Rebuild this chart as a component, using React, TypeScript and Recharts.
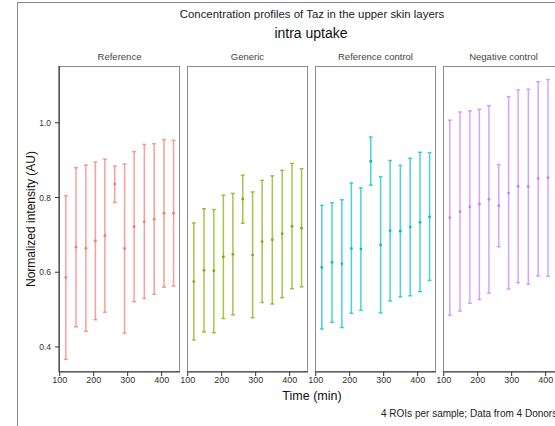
// Concentration profiles — four facets of mean ± range per time point

import { ScatterChart, Scatter, XAxis, YAxis, ErrorBar } from 'recharts'

// ─── Data ────────────────────────────────────────────────────────────────────

const TIMES = [118, 148, 177, 205, 233, 262, 291, 319, 349, 378, 407, 435]   // min

const PANELS = ['Reference', 'Generic', 'Reference control', 'Negative control']
const COLORS = ['#F8766D', '#7CAE00', '#00BFC4', '#C77CFF']

const refMean = [0.586, 0.667, 0.664, 0.684, 0.698, 0.836, 0.664, 0.722, 0.735, 0.742, 0.758, 0.758]
const refHi   = [0.805, 0.880, 0.887, 0.895, 0.903, 0.884, 0.890, 0.923, 0.942, 0.944, 0.955, 0.953]
const refLo   = [0.367, 0.454, 0.442, 0.473, 0.493, 0.787, 0.437, 0.521, 0.530, 0.541, 0.560, 0.563]

const genMean = [0.575, 0.605, 0.604, 0.641, 0.648, 0.796, 0.646, 0.682, 0.687, 0.703, 0.723, 0.718]
const genHi   = [0.732, 0.770, 0.768, 0.806, 0.811, 0.860, 0.815, 0.846, 0.858, 0.873, 0.891, 0.877]
const genLo   = [0.419, 0.440, 0.438, 0.476, 0.486, 0.731, 0.478, 0.519, 0.515, 0.532, 0.556, 0.561]

const rcMean  = [0.613, 0.627, 0.623, 0.664, 0.662, 0.897, 0.673, 0.711, 0.710, 0.721, 0.734, 0.748]
const rcHi    = [0.779, 0.786, 0.794, 0.839, 0.826, 0.962, 0.856, 0.899, 0.886, 0.905, 0.921, 0.920]
const rcLo    = [0.448, 0.466, 0.452, 0.490, 0.498, 0.833, 0.491, 0.523, 0.534, 0.537, 0.548, 0.578]

const negMean = [0.746, 0.762, 0.775, 0.782, 0.795, 0.778, 0.812, 0.830, 0.829, 0.851, 0.853, 0.860]
const negHi   = [1.007, 1.029, 1.032, 1.036, 1.046, 0.888, 1.070, 1.088, 1.090, 1.110, 1.116, 1.120]
const negLo   = [0.485, 0.496, 0.517, 0.527, 0.544, 0.668, 0.555, 0.572, 0.568, 0.590, 0.589, 0.600]

const SERIES = [
  [refMean, refLo, refHi],
  [genMean, genLo, genHi],
  [rcMean, rcLo, rcHi],
  [negMean, negLo, negHi],
]

const X_TICKS = [100, 200, 300, 400]
const Y_TICKS = [0.4, 0.6, 0.8, 1.0]
const X_DOMAIN = [98, 454]
const Y_DOMAIN = [0.333, 1.152]

// ─── Layout ──────────────────────────────────────────────────────────────────

const FONT = '"Liberation Sans", Arial, Helvetica, sans-serif'
const PANEL_LEFT = [59, 187, 315, 443]
const PANEL_W = 121
const PANEL_TOP = 66
const PANEL_H = 306
const Y_AXIS_W = 40
const X_AXIS_H = 25
const PAD = 10   // room for the first x tick label of each facet

// y-tick labels go in a top layer (the axis keeps its line and tick marks)
const yPos = (v: number) =>
  PANEL_TOP + ((Y_DOMAIN[1] - v) / (Y_DOMAIN[1] - Y_DOMAIN[0])) * PANEL_H

function Panel({ idx }: { idx: number }) {
  const [mean, lo, hi] = SERIES[idx]
  const data = TIMES.map((t, i) => ({
    t,
    mean: mean[i],
    err: [mean[i] - lo[i], hi[i] - mean[i]],
  }))
  const color = COLORS[idx]
  const first = idx === 0
  const leftSpace = first ? Y_AXIS_W : PAD

  return (
    <div style={{ position: 'absolute', left: PANEL_LEFT[idx] - leftSpace, top: PANEL_TOP, zIndex: 1 }}>
      <ScatterChart
        width={PANEL_W + leftSpace}
        height={PANEL_H + X_AXIS_H}
        margin={{ top: 0, right: 0, left: first ? 0 : PAD, bottom: 0 }}
      >
        <XAxis
          type="number"
          dataKey="t"
          domain={X_DOMAIN}
          ticks={X_TICKS}
          interval={0}
          allowDataOverflow
          height={X_AXIS_H}
          tick={{ fill: '#333', fontSize: 9, fontFamily: FONT }}
          axisLine={{ stroke: '#333', strokeWidth: 1.1 }}
          tickLine={{ stroke: '#333' }}
          tickSize={4}
          tickMargin={1}
        />
        {first ? (
          <YAxis
            type="number"
            dataKey="mean"
            domain={Y_DOMAIN}
            ticks={Y_TICKS}
            interval={0}
            allowDataOverflow
            width={Y_AXIS_W}
            tick={() => <g />}
            axisLine={{ stroke: '#333', strokeWidth: 1.1 }}
            tickLine={{ stroke: '#333' }}
            tickSize={4}
          />
        ) : (
          <YAxis type="number" dataKey="mean" domain={Y_DOMAIN} allowDataOverflow hide />
        )}
        <Scatter
          data={data}
          dataKey="mean"
          isAnimationActive={false}
          shape={(p: any) => <circle cx={p.cx} cy={p.cy} r={1.4} fill={color} />}
        >
          <ErrorBar
            dataKey="err"
            direction="y"
            width={2}
            stroke={color}
            strokeWidth={1.5}
            strokeOpacity={0.7}
          />
        </Scatter>
      </ScatterChart>
    </div>
  )
}

export default function App() {
  return (
    <div
      style={{
        position: 'fixed', left: 0, top: 0, width: 555, height: 426,
        overflow: 'hidden', background: '#fff', fontFamily: FONT,
      }}
    >
      <svg width={800} height={426} style={{ position: 'absolute', left: 0, top: 0, zIndex: 0 }}>
        <rect x={17.5} y={2.5} width={760} height={500} fill="none" stroke="#888" />
        <text x={312} y={14} textAnchor="middle" dominantBaseline="central" fontSize={11.4} fill="#222">
          Concentration profiles of Taz in the upper skin layers
        </text>
        <text x={311} y={33} textAnchor="middle" dominantBaseline="central" fontSize={14} fill="#111">
          intra uptake
        </text>
        {PANELS.map((name, i) => (
          <g key={name}>
            <text
              x={PANEL_LEFT[i] + PANEL_W / 2} y={56}
              textAnchor="middle" dominantBaseline="central" fontSize={9.5} fill="#444"
            >
              {name}
            </text>
            <rect
              x={PANEL_LEFT[i] + 0.5} y={PANEL_TOP + 0.5}
              width={PANEL_W - 1} height={PANEL_H - 1}
              fill="none" stroke="#8c8c8c"
            />
          </g>
        ))}
        <text x={312} y={396} textAnchor="middle" dominantBaseline="central" fontSize={12.5} fill="#111">
          Time (min)
        </text>
        <text x={381} y={413} dominantBaseline="central" fontSize={10} fill="#222">
          4 ROIs per sample; Data from 4 Donors
        </text>
      </svg>
      {PANELS.map((name, i) => <Panel key={name} idx={i} />)}
      <svg
        width={58} height={426}
        style={{ position: 'absolute', left: 0, top: 0, zIndex: 2, pointerEvents: 'none', overflow: 'visible' }}
      >
        <text
          x={31} y={219} textAnchor="middle" dominantBaseline="central" fontSize={12} fill="#111"
          transform="rotate(-90 31 219)"
        >
          Normalized intensity (AU)
        </text>
        {Y_TICKS.map((v) => (
          <text
            key={String(v)} x={51} y={yPos(v)} textAnchor="end" dominantBaseline="central"
            fontSize={8.5} fill="#333"
          >
            {v.toFixed(1)}
          </text>
        ))}
      </svg>
    </div>
  )
}
